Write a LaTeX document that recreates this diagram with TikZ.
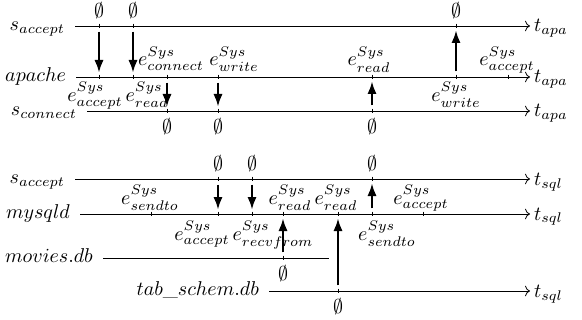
\documentclass[tikz,border=0pt]{standalone}
\usepackage{tikz}
\usetikzlibrary{arrows.meta}
\tikzstyle{timeline} = [->]
\tikzstyle{arrow} = [line width=1pt,-{Latex[length=6.3pt,width=4.6pt]},shorten <=2.8pt,shorten >=2.2pt]
\tikzstyle{proc} = [anchor=base east, xshift=-1.5pt, yshift=-2.25pt]
\tikzstyle{clock} = [anchor=base west, xshift=-1.5pt, yshift=-3pt]
\tikzstyle{event} = [anchor=base]

\begin{document}
\begin{tikzpicture}[x=0.5pt,y=-0.5pt]
\useasboundingbox (0,0) rectangle (582,320);
% apache
\coordinate (acc0) at (75,26);
\coordinate (accE) at (530,26);
\coordinate (apa0) at (76,77);
\coordinate (apaE) at (530,77);
\coordinate (con0) at (87,111);
\coordinate (conE) at (530,111);
\coordinate (acc1) at (99,26);
\coordinate (acc2) at (133,26);
\coordinate (acc3) at (456,26);
\coordinate (apa1) at (99,77);
\coordinate (apa2) at (133,77);
\coordinate (apa3) at (167,77);
\coordinate (apa4) at (218,77);
\coordinate (apa5) at (372,77);
\coordinate (apa6) at (456,77);
\coordinate (apa7) at (508,77);
\coordinate (con1) at (167,111);
\coordinate (con2) at (218,111);
\coordinate (con3) at (372,111);
% mysql
\coordinate (sacc0) at (75,179);
\coordinate (saccE) at (530,179);
\coordinate (sql0) at (80,214);
\coordinate (sqlE) at (530,214);
\coordinate (mov0) at (103,258);
\coordinate (movE) at (329,258);
\coordinate (tab0) at (269,291);
\coordinate (tabE) at (530,291);
\coordinate (sacc1) at (218,179);
\coordinate (sacc2) at (252,179);
\coordinate (sacc3) at (372,179);
\coordinate (sql1) at (151,214);
\coordinate (sql2) at (218,214);
\coordinate (sql3) at (252,214);
\coordinate (sql4) at (283,214);
\coordinate (sql5) at (338,214);
\coordinate (sql6) at (372,214);
\coordinate (sql7) at (423,214);
\coordinate (mov1) at (283,258);
\coordinate (tab1) at (338,291);

\draw [timeline] (acc0) -- (accE);
\draw [timeline] (apa0) -- (apaE);
\draw [timeline] (con0) -- (conE);
\draw [timeline] (sacc0) -- (saccE);
\draw [timeline] (sql0) -- (sqlE);
\draw (mov0) -- (movE);
\draw [timeline] (tab0) -- (tabE);
\foreach \t in {acc1,acc2,acc3,apa1,apa2,apa3,apa4,apa5,apa6,apa7,con1,con2,con3,sacc1,sacc2,sacc3,sql1,sql2,sql3,sql4,sql5,sql6,sql7,mov1,tab1}
  \draw ([yshift=1.2pt]\t) -- ([yshift=-1.2pt]\t);

\node (pacc) [proc] at (acc0) {$s_{accept}$};
\node (papa) [proc] at (apa0) {$apache$};
\node (pcon) [proc] at (con0) {$s_{connect}$};
\node (psacc) [proc] at (sacc0) {$s_{accept}$};
\node (psql) [proc] at (sql0) {$mysqld$};
\node (pmov) [proc] at (mov0) {$movies.db$};
\node (ptab) [proc] at (tab0) {$tab\_schem.db$};
\node (tacc) [clock] at (accE) {$t_{apa}$};
\node (tapa) [clock] at (apaE) {$t_{apa}$};
\node (tcon) [clock] at (conE) {$t_{apa}$};
\node (tsacc) [clock] at (saccE) {$t_{sql}$};
\node (tsql) [clock] at (sqlE) {$t_{sql}$};
\node (ttab) [clock] at (tabE) {$t_{sql}$};

\draw [arrow] (acc1) -- (apa1);
\draw [arrow] (acc2) -- (apa2);
\draw [arrow] (apa3) -- (con1);
\draw [arrow] (apa4) -- (con2);
\draw [arrow] (con3) -- (apa5);
\draw [arrow] (apa6) -- (acc3);
\draw [arrow] (sacc1) -- (sql2);
\draw [arrow] (sacc2) -- (sql3);
\draw [arrow] (mov1) -- (sql4);
\draw [arrow] (tab1) -- (sql5);
\draw [arrow] (sql6) -- (sacc3);

\node (z1) [above] at (acc1) {$\emptyset$};
\node (z2) [above] at (acc2) {$\emptyset$};
\node (z3) [above] at (acc3) {$\emptyset$};
\node (z4) [below] at (con1) {$\emptyset$};
\node (z5) [below] at (con2) {$\emptyset$};
\node (z6) [below] at (con3) {$\emptyset$};
\node (z7) [above] at (sacc1) {$\emptyset$};
\node (z8) [above] at (sacc2) {$\emptyset$};
\node (z9) [above] at (sacc3) {$\emptyset$};
\node (z10) [below] at (mov1) {$\emptyset$};
\node (z11) [below] at (tab1) {$\emptyset$};

\node (e1) [event] at (171,66) {$e^{Sys}_{connect}$};
\node (e2) [event] at (234,66) {$e^{Sys}_{write}$};
\node (e3) [event] at (369,66) {$e^{Sys}_{read}$};
\node (e4) [event] at (507,66) {$e^{Sys}_{accept}$};
\node (e5) [event] at (95,101.5) {$e^{Sys}_{accept}$};
\node (e6) [event] at (147,101.5) {$e^{Sys}_{read}$};
\node (e7) [event] at (456,101.5) {$e^{Sys}_{write}$};
\node (f1) [event] at (150,204) {$e^{Sys}_{sendto}$};
\node (f2) [event] at (290,204) {$e^{Sys}_{read}$};
\node (f3) [event] at (336,204) {$e^{Sys}_{read}$};
\node (f4) [event] at (421,204) {$e^{Sys}_{accept}$};
\node (f5) [event] at (202,240) {$e^{Sys}_{accept}$};
\node (f6) [event] at (273,240) {$e^{Sys}_{recvfrom}$};
\node (f7) [event] at (387,240) {$e^{Sys}_{sendto}$};
\end{tikzpicture}
\end{document}
